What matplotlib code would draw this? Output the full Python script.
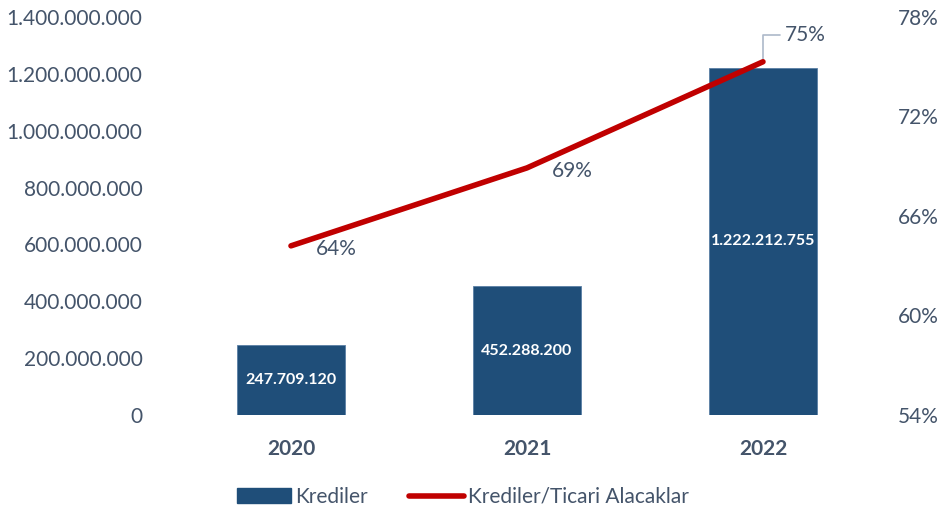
import matplotlib.pyplot as plt
from matplotlib.ticker import FuncFormatter
from matplotlib.lines import Line2D
from matplotlib.patches import Patch

years = ['2020', '2021', '2022']
krediler = [247709120, 452288200, 1222212755]
oran = [0.642, 0.689, 0.753]
oran_labels = ['64%', '69%', '75%']

bar_color = '#1F4E79'
line_color = '#C00000'
text_color = '#44546A'

plt.rcParams['font.family'] = ['Lato', 'DejaVu Sans']


def tr_number(v, pos=None):
    return f'{int(round(v)):,}'.replace(',', '.')


fig = plt.figure(figsize=(9.52, 5.15), dpi=100)
ax = fig.add_axes([0.1817, 0.1942, 0.7437, 0.7728])
ax2 = ax.twinx()

x = range(len(years))
bars = ax.bar(x, krediler, width=0.46, color=bar_color, edgecolor='#5A7FA5', linewidth=0.6, zorder=2)
ax.set_ylim(0, 1400000000)
ax.set_yticks(range(0, 1400000001, 200000000))
ax.yaxis.set_major_formatter(FuncFormatter(tr_number))
ax.set_xlim(-0.5, 2.5)
ax.set_xticks(list(x))
ax.set_xticklabels(years, fontsize=15, fontweight='bold', color=text_color)
ax.tick_params(axis='x', length=0, pad=17)
ax.tick_params(axis='y', length=0, labelsize=15, labelcolor=text_color, pad=22)

for b, v in zip(bars, krediler):
    ax.text(b.get_x() + b.get_width() / 2, v / 2, tr_number(v), ha='center', va='center',
            color='white', fontsize=11.5, fontweight='bold', zorder=3)

ax2.plot(list(x), oran, color=line_color, linewidth=4, solid_capstyle='round', zorder=4)
ax2.set_ylim(0.54, 0.78)
ax2.set_yticks([0.54, 0.60, 0.66, 0.72, 0.78])
ax2.yaxis.set_major_formatter(FuncFormatter(lambda v, p: f'{v * 100:.0f}%'))
ax2.tick_params(axis='y', length=0, labelsize=15, labelcolor=text_color, pad=12)

# line labels
ax2.annotate(oran_labels[0], (0, oran[0]), xytext=(18, -2), textcoords='offset points',
             ha='left', va='center', fontsize=15, color=text_color)
ax2.annotate(oran_labels[1], (1, oran[1]), xytext=(18, -2), textcoords='offset points',
             ha='left', va='center', fontsize=15, color=text_color)
ax2.annotate(oran_labels[2], (2, oran[2]), xytext=(16, 19), textcoords='offset points',
             ha='left', va='center', fontsize=15, color=text_color,
             arrowprops=dict(arrowstyle='-', color='#ADB9CA', lw=1.2,
                             connectionstyle='angle,angleA=0,angleB=90,rad=0',
                             shrinkA=2, shrinkB=1))

for a in (ax, ax2):
    for s in a.spines.values():
        s.set_visible(False)

handles = [Patch(facecolor=bar_color, edgecolor=bar_color),
           Line2D([0], [0], color=line_color, linewidth=4, solid_capstyle='round')]
fig.legend(handles, ['Krediler', 'Krediler/Ticari Alacaklar'], loc='center',
           bbox_to_anchor=(0.486, 0.035), ncol=2, frameon=False, fontsize=15,
           labelcolor=text_color, handlelength=2.6, handletextpad=0.2, columnspacing=2.0)

fig.savefig('out.png', dpi=100)
